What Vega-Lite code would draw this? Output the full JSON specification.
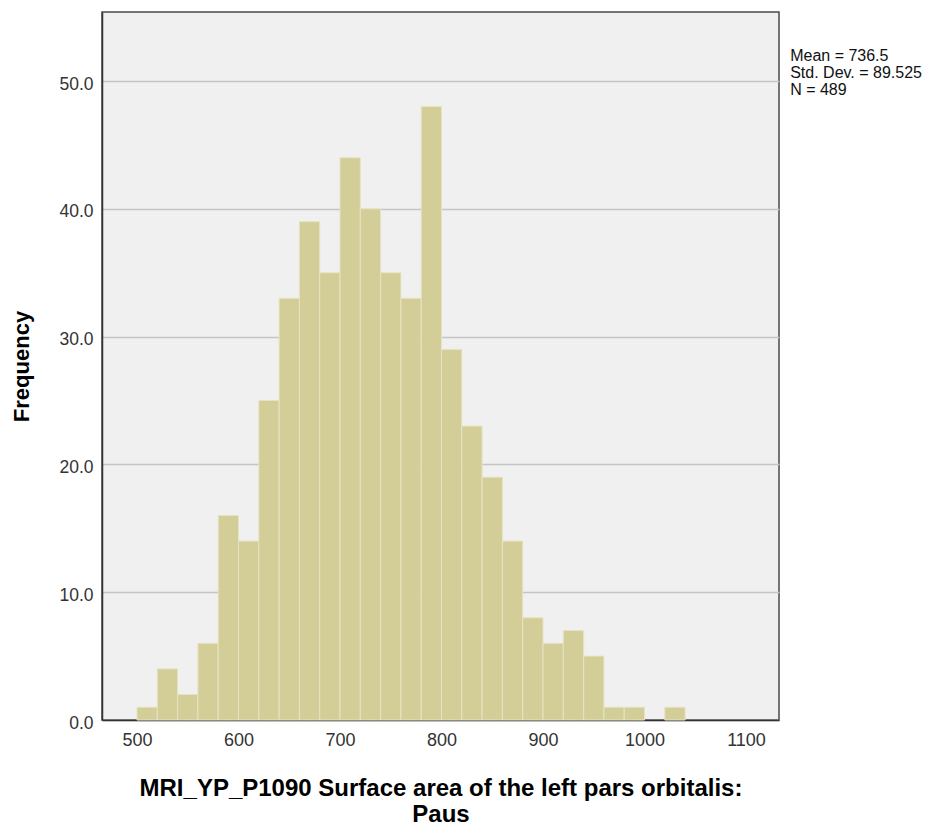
{
  "$schema": "https://vega.github.io/schema/vega-lite/v6.json",
  "width": 677,
  "height": 708,
  "autosize": {"type": "none"},
  "padding": {"left": 102, "top": 12, "right": 167, "bottom": 110},
  "background": "white",
  "config": {
    "font": "Liberation Sans",
    "view": {"fill": "#f0f0f0", "stroke": "#4a4a4a", "strokeWidth": 1.5}
  },
  "datasets": {
    "bins": [
      {"bin_start": 500, "bin_end": 520, "count": 1},
      {"bin_start": 520, "bin_end": 540, "count": 4},
      {"bin_start": 540, "bin_end": 560, "count": 2},
      {"bin_start": 560, "bin_end": 580, "count": 6},
      {"bin_start": 580, "bin_end": 600, "count": 16},
      {"bin_start": 600, "bin_end": 620, "count": 14},
      {"bin_start": 620, "bin_end": 640, "count": 25},
      {"bin_start": 640, "bin_end": 660, "count": 33},
      {"bin_start": 660, "bin_end": 680, "count": 39},
      {"bin_start": 680, "bin_end": 700, "count": 35},
      {"bin_start": 700, "bin_end": 720, "count": 44},
      {"bin_start": 720, "bin_end": 740, "count": 40},
      {"bin_start": 740, "bin_end": 760, "count": 35},
      {"bin_start": 760, "bin_end": 780, "count": 33},
      {"bin_start": 780, "bin_end": 800, "count": 48},
      {"bin_start": 800, "bin_end": 820, "count": 29},
      {"bin_start": 820, "bin_end": 840, "count": 23},
      {"bin_start": 840, "bin_end": 860, "count": 19},
      {"bin_start": 860, "bin_end": 880, "count": 14},
      {"bin_start": 880, "bin_end": 900, "count": 8},
      {"bin_start": 900, "bin_end": 920, "count": 6},
      {"bin_start": 920, "bin_end": 940, "count": 7},
      {"bin_start": 940, "bin_end": 960, "count": 5},
      {"bin_start": 960, "bin_end": 980, "count": 1},
      {"bin_start": 980, "bin_end": 1000, "count": 1},
      {"bin_start": 1000, "bin_end": 1020, "count": 0},
      {"bin_start": 1020, "bin_end": 1040, "count": 1}
    ],
    "stats": [
      {"stats": "Mean = 736.5\nStd. Dev. = 89.525\nN = 489"}
    ]
  },
  "layer": [
    {
      "data": {"name": "bins"},
      "mark": {"type": "bar", "fill": "#d3ce97", "stroke": "#e6e3c4", "strokeWidth": 1},
      "encoding": {
        "x": {
          "field": "bin_start",
          "type": "quantitative",
          "scale": {"domain": [465.5, 1132.5], "nice": false, "zero": false},
          "axis": {
            "values": [500, 600, 700, 800, 900, 1000, 1100],
            "format": "d",
            "ticks": false,
            "grid": false,
            "domainColor": "#333333",
            "domainWidth": 1.5,
            "labelFont": "Liberation Sans",
            "labelFontSize": 18,
            "labelColor": "#333333",
            "labelPadding": 11,
            "title": ["MRI_YP_P1090 Surface area of the left pars orbitalis:", "Paus"],
            "titleFont": "Liberation Sans",
            "titleFontSize": 24,
            "titleFontWeight": "bold",
            "titleColor": "#000000",
            "titleLineHeight": 26,
            "titlePadding": 27
          }
        },
        "x2": {"field": "bin_end"},
        "y": {
          "field": "count",
          "type": "quantitative",
          "scale": {"domain": [0, 55.4], "nice": false},
          "axis": {
            "values": [0, 10, 20, 30, 40, 50],
            "format": ".1f",
            "ticks": false,
            "grid": true,
            "gridColor": "#c4c4c4",
            "gridWidth": 1.5,
            "domainColor": "#333333",
            "domainWidth": 1.5,
            "labelFont": "Liberation Sans",
            "labelFontSize": 17.5,
            "labelColor": "#333333",
            "labelPadding": 9,
            "labelOffset": 3,
            "title": "Frequency",
            "titleFont": "Liberation Sans",
            "titleFontSize": 22,
            "titleFontWeight": "bold",
            "titleColor": "#000000",
            "titlePadding": 25
          }
        },
        "y2": {"datum": 0},
        "strokeOpacity": {"condition": {"test": "datum.count == 0", "value": 0}, "value": 1}
      }
    },
    {
      "data": {"name": "stats"},
      "mark": {
        "type": "text",
        "align": "left",
        "baseline": "top",
        "lineBreak": "\n",
        "lineHeight": 17,
        "fontSize": 16,
        "font": "Liberation Sans",
        "color": "#111111",
        "clip": false
      },
      "encoding": {
        "text": {"field": "stats"},
        "x": {"datum": 1143.5},
        "y": {"datum": 52.6}
      }
    }
  ]
}
